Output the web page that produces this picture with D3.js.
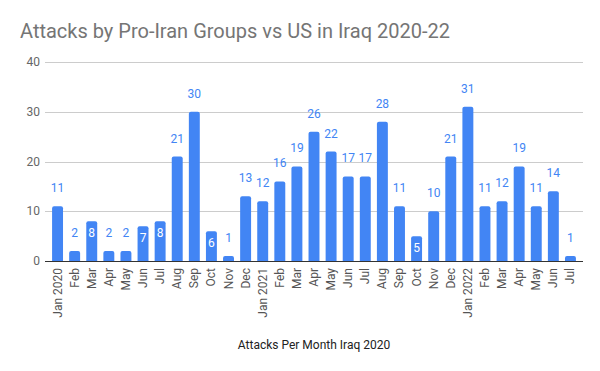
<!DOCTYPE html>
<html>
<head>
<meta charset="utf-8">
<script src="https://cdn.jsdelivr.net/npm/d3@7"></script>
<style>
  body { margin: 0; background: #fff; }
  svg text { font-family: Roboto, "Noto Sans", sans-serif; }
</style>
</head>
<body>
<svg id="chart" width="600" height="371"></svg>
<script>
const months = [
  'Jan 2020', 'Feb', 'Mar', 'Apr', 'May', 'Jun', 'Jul', 'Aug', 'Sep', 'Oct', 'Nov', 'Dec',
  'Jan 2021', 'Feb', 'Mar', 'Apr', 'May', 'Jun', 'Jul', 'Aug', 'Sep', 'Oct', 'Nov', 'Dec',
  'Jan 2022', 'Feb', 'Mar', 'Apr', 'May', 'Jun', 'Jul',
];
const attacks = [
  11, 2, 8, 2, 2, 7, 8, 21, 30, 6, 1, 13,
  12, 16, 19, 26, 22, 17, 17, 28, 11, 5, 10, 21,
  31, 11, 12, 19, 11, 14, 1,
];
const yTicks = [0, 10, 20, 30, 40];

const title = 'Attacks by Pro-Iran Groups vs US in Iraq 2020-22';
const xTitle = 'Attacks Per Month Iraq 2020';

const barColor = '#4285f4';
const data = months.map((m, i) => ({ key: i, label: m, value: attacks[i] }));

const svg = d3.select('#chart');

const x = d3.scaleBand()
  .domain(data.map(d => d.key))
  .range([49, 579])
  .paddingInner(0.36)
  .paddingOuter(0.18);

const y = d3.scaleLinear()
  .domain([0, 40])
  .range([261, 62]);

svg.append('text')
  .attr('x', 20)
  .attr('y', 38)
  .attr('fill', '#757575')
  .style('font-size', '20px')
  .text(title);

// gridlines + y labels
const grid = svg.append('g');
grid.selectAll('line')
  .data(yTicks.filter(t => t > 0))
  .join('line')
  .attr('x1', 45)
  .attr('x2', 583)
  .attr('y1', d => Math.round(y(d)) + 0.5)
  .attr('y2', d => Math.round(y(d)) + 0.5)
  .attr('stroke', '#cccccc');

grid.selectAll('text')
  .data(yTicks)
  .join('text')
  .attr('x', 40)
  .attr('y', d => y(d) + 4)
  .attr('text-anchor', 'end')
  .attr('fill', '#666')
  .style('font-size', '12px')
  .text(d => d);

// bars with slightly rounded tops
const bars = svg.append('g');
bars.selectAll('path')
  .data(data)
  .join('path')
  .attr('fill', barColor)
  .attr('d', (d) => {
    const x0 = x(d.key);
    const w = x.bandwidth();
    const top = y(d.value);
    const bottom = y(0);
    const r = Math.min(2, (bottom - top) / 2);
    return `M${x0},${bottom}V${top + r}Q${x0},${top} ${x0 + r},${top}`
      + `H${x0 + w - r}Q${x0 + w},${top} ${x0 + w},${top + r}V${bottom}Z`;
  });

// baseline
svg.append('line')
  .attr('x1', 45)
  .attr('x2', 583)
  .attr('y1', y(0) + 0.5)
  .attr('y2', y(0) + 0.5)
  .attr('stroke', '#333')
  .attr('stroke-width', 1);

// value labels: inside for mid-sized bars, above otherwise
const inside = d => d.value >= 5 && d.value < 10;
svg.append('g')
  .selectAll('text')
  .data(data)
  .join('text')
  .attr('x', d => x(d.key) + x.bandwidth() / 2)
  .attr('y', d => (inside(d) ? y(d.value) + 16 : y(d.value) - 14))
  .attr('text-anchor', 'middle')
  .attr('fill', d => (inside(d) ? '#fff' : barColor))
  .style('font-size', '12px')
  .text(d => d.value);

// x tick labels, rotated
svg.append('g')
  .selectAll('text')
  .data(data)
  .join('text')
  .attr('transform', d => `translate(${x(d.key) + x.bandwidth() / 2 + 4},268) rotate(-90)`)
  .attr('text-anchor', 'end')
  .attr('fill', '#555')
  .style('font-size', '12px')
  .text(d => d.label);

svg.append('text')
  .attr('x', 314)
  .attr('y', 349)
  .attr('text-anchor', 'middle')
  .attr('fill', '#222')
  .style('font-size', '12px')
  .text(xTitle);
</script>
</body>
</html>
